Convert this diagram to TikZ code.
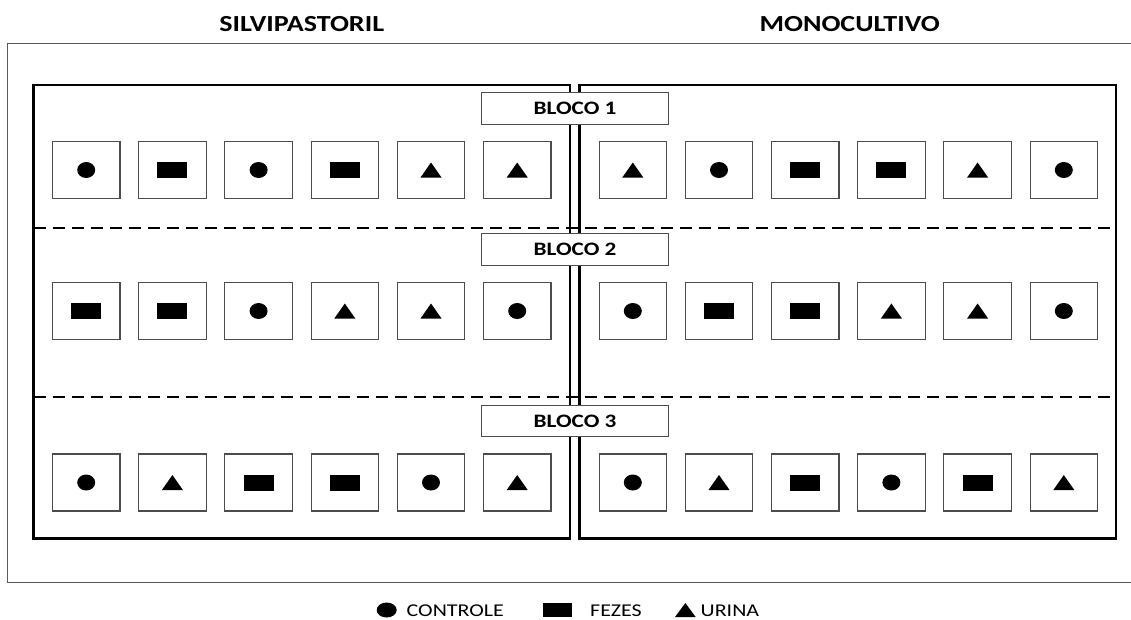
\documentclass[tikz,border=0pt]{standalone}
\usepackage{fontspec}
\setmainfont{Carlito}

% treatment symbols drawn at the centre of a plot node
\newcommand\symC[1]{\fill (#1.center) ellipse [x radius=9pt, y radius=8pt];}
\newcommand\symF[1]{\fill ([shift={(-15pt,-8pt)}]#1.center) rectangle ([shift={(15pt,8pt)}]#1.center);}
\newcommand\symU[1]{\fill ([shift={(-10.5pt,-7.5pt)}]#1.center) -- ([shift={(10.5pt,-7.5pt)}]#1.center) -- ([shift={(0pt,7.5pt)}]#1.center) -- cycle;}

% one row of six plots: prefix, first x, y, list of treatments
\newcommand\plotrow[4]{%
  \foreach \s [count=\i] in {#4} {
    \node[plot] (#1\i) at ({#2+86.2*(\i-1)},#3) {};
    \csname sym\s\endcsname{#1\i}
  }%
}

% slightly widened lettering
\newcommand\wide[1]{\scalebox{1.22}[1]{#1}}

\begin{document}
\begin{tikzpicture}[x=1pt, y=-1pt,
  frame/.style={draw=black!65, line width=1pt},
  panel/.style={line width=2.5pt},
  divider/.style={line width=2pt, dash pattern=on 12pt off 7pt},
  plot/.style={draw=black!70, line width=1.1pt, minimum width=67.5pt, minimum height=57pt, inner sep=0pt},
  blocolabel/.style={draw=black!70, line width=1pt, fill=white, minimum width=186.6pt, minimum height=31.6pt, inner sep=0pt, font=\bfseries\fontsize{19}{19}\selectfont},
  title/.style={anchor=base, inner sep=0pt, font=\bfseries\fontsize{23}{23}\selectfont},
  legendtext/.style={anchor=base west, inner sep=0pt, font=\fontsize{18}{18}\selectfont}
]
\useasboundingbox (0,0) rectangle (1131,619);

% outer frame, open towards the right edge
\draw[frame] (1131,43) -- (7.5,43) -- (7.5,582.3) -- (1131,582.3);

% system titles
\node[title] (silvi) at (301.7,31) {\wide{SILVIPASTORIL}};
\node[title] (mono) at (849.7,31) {\wide{MONOCULTIVO}};

% the two experimental areas
\draw[panel] (33.7,85) rectangle (570,538.3);
\draw[panel] (579.3,85) rectangle (1116,538.3);

% block limits
\draw[divider] (33.7,227.5) -- (1116,227.5);
\draw[divider] (33.7,396.5) -- (1116,396.5);

% block labels
\node[blocolabel] (b1) at (575,108.5) {\wide{BLOCO 1}};
\node[blocolabel] (b2) at (575,249.2) {\wide{BLOCO 2}};
\node[blocolabel] (b3) at (575,420.9) {\wide{BLOCO 3}};

% plots
\plotrow{sa}{86.2}{170}{C,F,C,F,U,U}
\plotrow{ma}{632.8}{170}{U,C,F,F,U,C}
\plotrow{sb}{86.2}{311}{F,F,C,U,U,C}
\plotrow{mb}{632.8}{311}{C,F,F,U,U,C}
\plotrow{sc}{86.2}{482.5}{C,U,F,F,C,U}
\plotrow{mc}{632.8}{482.5}{C,U,F,C,F,U}

% legend
\fill (386.7,610) ellipse [x radius=10pt, y radius=7.5pt];
\node[legendtext] (lc) at (406.5,616.5) {\wide{CONTROLE}};
\fill (543.3,603) rectangle (571.7,617);
\node[legendtext] (lf) at (590,616.5) {\wide{FEZES}};
\fill (675,617) -- (695.7,617) -- (685.35,603) -- cycle;
\node[legendtext] (lu) at (700.5,616.5) {\wide{URINA}};
\end{tikzpicture}
\end{document}
